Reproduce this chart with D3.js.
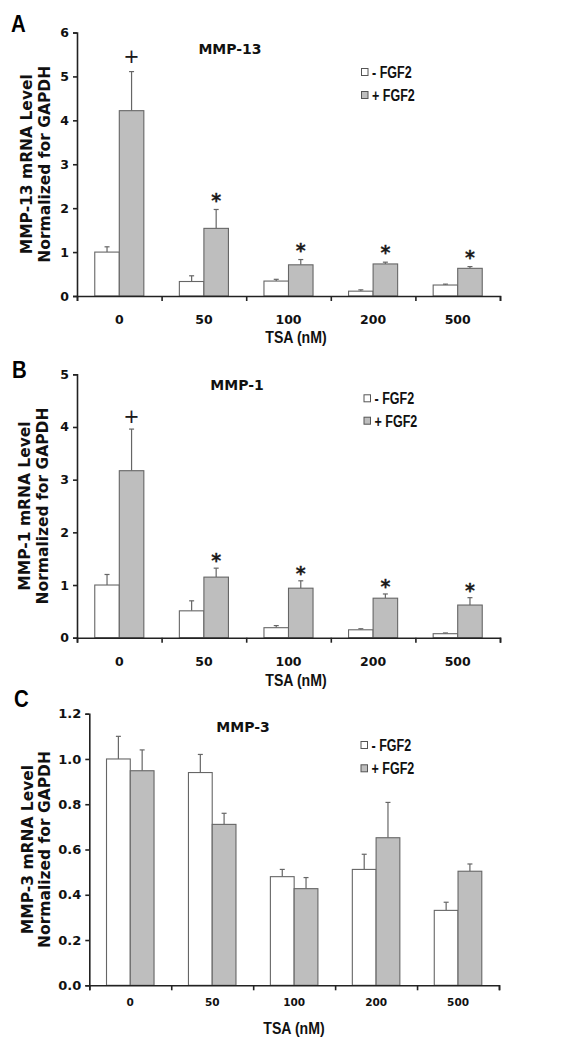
<!DOCTYPE html>
<html><head><meta charset="utf-8">
<script src="https://cdn.jsdelivr.net/npm/d3@7"></script>
<style>
html,body{margin:0;padding:0;background:#fff;}
svg{display:block;}
.tick text{font-family:"DejaVu Sans",Verdana,sans-serif;font-weight:bold;fill:#111;}
.narrow{font-family:"Liberation Sans",Arial,sans-serif;font-weight:bold;}
</style></head>
<body>
<svg id="chart" width="572" height="1049"></svg>
<script>
// ---------- data ----------
const categories = ["0", "50", "100", "200", "500"];
const seriesNames = ["- FGF2", "+ FGF2"];

const mmp13Minus    = [1.00, 0.33, 0.34, 0.11, 0.25];
const mmp13MinusErr = [0.12, 0.13, 0.04, 0.03, 0.02];
const mmp13Plus     = [4.22, 1.54, 0.71, 0.73, 0.63];
const mmp13PlusErr  = [0.89, 0.43, 0.12, 0.04, 0.04];
const mmp13Marks    = ["+", "*", "*", "*", "*"];
const mmp13Ticks    = [0, 1, 2, 3, 4, 5, 6];

const mmp1Minus     = [1.00, 0.51, 0.19, 0.15, 0.076];
const mmp1MinusErr  = [0.20, 0.19, 0.04, 0.02, 0.014];
const mmp1Plus      = [3.17, 1.15, 0.94, 0.75, 0.62];
const mmp1PlusErr   = [0.79, 0.17, 0.14, 0.08, 0.14];
const mmp1Marks     = ["+", "*", "*", "*", "*"];
const mmp1Ticks     = [0, 1, 2, 3, 4, 5];

const mmp3Minus     = [1.00, 0.94, 0.48, 0.512, 0.331];
const mmp3MinusErr  = [0.10, 0.08, 0.032, 0.067, 0.036];
const mmp3Plus      = [0.948, 0.711, 0.427, 0.652, 0.504];
const mmp3PlusErr   = [0.092, 0.049, 0.049, 0.156, 0.032];
const mmp3Marks     = ["", "", "", "", ""];
const mmp3Ticks     = [0, 0.2, 0.4, 0.6, 0.8, 1.0, 1.2];

// ---------- layout ----------
const panels = [
  {letter:"A", title:"MMP-13", ylab1:"MMP-13 mRNA Level", minus:mmp13Minus, minusErr:mmp13MinusErr, plus:mmp13Plus, plusErr:mmp13PlusErr, marks:mmp13Marks, ticks:mmp13Ticks, fmt:d3.format("d"),
   x0:77, x1:500, yTop:32.5, yBot:296, letterPos:[11,32], titlePos:[230,54], legend:[361.5,72,95], xLabY:343, xLabX:296, yLabX:[27,45], xTickFont:12.5, yTickFont:12.5, xTickDy:27, markOff:15.5},
  {letter:"B", title:"MMP-1", ylab1:"MMP-1 mRNA Level", minus:mmp1Minus, minusErr:mmp1MinusErr, plus:mmp1Plus, plusErr:mmp1PlusErr, marks:mmp1Marks, ticks:mmp1Ticks, fmt:d3.format("d"),
   x0:77, x1:500, yTop:374.3, yBot:637.7, letterPos:[12,378], titlePos:[237,390], legend:[364,398.3,420.7], xLabY:686, xLabX:296, yLabX:[25,43], xTickFont:12.5, yTickFont:12.5, xTickDy:27, markOff:13.5},
  {letter:"C", title:"MMP-3", ylab1:"MMP-3 mRNA Level", minus:mmp3Minus, minusErr:mmp3MinusErr, plus:mmp3Plus, plusErr:mmp3PlusErr, marks:mmp3Marks, ticks:mmp3Ticks, fmt:d3.format(".1f"),
   x0:89.3, x1:499, yTop:713.7, yBot:985.3, letterPos:[14,707], titlePos:[243,731.5], legend:[361,745,768.3], xLabY:1034, xLabX:294, yLabX:[28,45], xTickFont:10.5, yTickFont:13, xTickDy:21.5, markOff:14}
];

const svg = d3.select("#chart");
const barStroke = "#666";
const greyFill = "#bebebe";
const axisColor = "#222";

// condensed bold text (the figure uses a condensed face)
function narrowText(g, x, y, txt, size, sx, anchor) {
  return g.append("text").attr("class", "narrow")
    .attr("transform", `translate(${x},${y}) scale(${sx},1)`)
    .attr("text-anchor", anchor || "start")
    .attr("font-size", size).attr("fill", "#111").text(txt);
}

panels.forEach(p => {
  const g = svg.append("g");
  const x = d3.scaleBand().domain(categories).range([p.x0, p.x1]).paddingInner(0).paddingOuter(0);
  const sub = d3.scaleBand().domain(["minus","plus"]).range([0, x.bandwidth()]).paddingInner(0).paddingOuter(0.724);
  const y = d3.scaleLinear().domain([p.ticks[0], p.ticks[p.ticks.length-1]]).range([p.yBot, p.yTop]);
  const bound = d3.scaleLinear().domain([0, categories.length]).range([p.x0, p.x1]);

  const rows = [];
  categories.forEach((c, i) => {
    rows.push({cat:c, key:"minus", v:p.minus[i], e:p.minusErr[i], mark:""});
    rows.push({cat:c, key:"plus",  v:p.plus[i],  e:p.plusErr[i],  mark:p.marks[i]});
  });

  // error bars (upper only)
  const eb = g.append("g").attr("stroke", "#666").attr("stroke-width", 1.2);
  rows.forEach(r => {
    const cx = x(r.cat) + sub(r.key) + sub.bandwidth()/2;
    eb.append("line").attr("x1", cx).attr("x2", cx).attr("y1", y(r.v)).attr("y2", y(r.v + r.e));
    eb.append("line").attr("x1", cx-2.5).attr("x2", cx+2.5).attr("y1", y(r.v + r.e)).attr("y2", y(r.v + r.e));
  });

  // bars
  g.append("g").selectAll("rect").data(rows).join("rect")
    .attr("x", d => x(d.cat) + sub(d.key))
    .attr("y", d => y(d.v))
    .attr("width", sub.bandwidth())
    .attr("height", d => y(0) - y(d.v))
    .attr("fill", d => d.key === "plus" ? greyFill : "#fff")
    .attr("stroke", barStroke).attr("stroke-width", 1.1);

  // significance marks
  g.append("g").selectAll("text").data(rows.filter(r => r.mark)).join("text")
    .attr("x", d => x(d.cat) + sub(d.key) + sub.bandwidth()/2)
    .attr("y", d => y(d.v + d.e) - p.markOff)
    .attr("text-anchor", "middle").attr("dominant-baseline", "central")
    .attr("font-family", "DejaVu Sans, sans-serif")
    .attr("font-weight", d => d.mark === "*" ? "bold" : "normal")
    .attr("font-size", 19)
    .attr("dy", d => d.mark === "*" ? "0.3em" : "0")
    .attr("fill", "#1a1a1a")
    .attr("stroke", "#1a1a1a").attr("stroke-width", d => d.mark === "*" ? 0.3 : 0.15)
    .text(d => d.mark);

  // y axis
  const ya = g.append("g").attr("transform", `translate(${p.x0},0)`)
    .call(d3.axisLeft(y).tickValues(p.ticks).tickFormat(p.fmt).tickSize(4).tickPadding(4));
  ya.selectAll("text").attr("font-size", p.yTickFont);
  // x axis: boundary ticks
  const xa = g.append("g").attr("transform", `translate(0,${p.yBot})`)
    .call(d3.axisBottom(bound).tickValues(d3.range(categories.length+1)).tickFormat("").tickSize(5).tickSizeOuter(5));
  // x labels
  const xl = g.append("g").attr("transform", `translate(0,${p.yBot})`)
    .call(d3.axisBottom(x).tickSize(0).tickPadding(p.xTickDy - 8));
  xl.select(".domain").remove();
  xl.selectAll("text").attr("font-size", p.xTickFont);
  [ya, xa].forEach(a => { a.selectAll(".domain, line").attr("stroke", axisColor).attr("stroke-width", 1.6); });

  // title
  g.append("text").attr("x", p.titlePos[0]).attr("y", p.titlePos[1])
    .attr("text-anchor", "middle").attr("font-family", "DejaVu Sans, sans-serif").attr("font-weight", "bold")
    .attr("font-size", 14).attr("fill", "#111").text(p.title);

  // panel letter
  narrowText(g, p.letterPos[0], p.letterPos[1], p.letter, 24, 0.85).attr("fill", "#000");

  // y label
  const yc = (p.yTop + p.yBot) / 2;
  [p.ylab1, "Normalized for GAPDH"].forEach((t, i) => {
    g.append("text").attr("transform", `translate(${p.yLabX[i]},${yc}) rotate(-90)`)
      .attr("text-anchor", "middle").attr("dominant-baseline", "central")
      .attr("font-family", "DejaVu Sans, sans-serif").attr("font-weight", "bold")
      .attr("font-size", 15.5).attr("fill", "#111").text(t);
  });

  // x label
  narrowText(g, p.xLabX, p.xLabY, "TSA (nM)", 17, 0.83, "middle");

  // legend
  seriesNames.forEach((s, i) => {
    const ly = p.legend[1 + i];
    g.append("rect").attr("x", p.legend[0]).attr("y", ly - 3.5).attr("width", 6.5).attr("height", 7)
      .attr("fill", i === 1 ? greyFill : "#fff").attr("stroke", "#555").attr("stroke-width", 1);
    narrowText(g, p.legend[0] + 10.5, ly + 6, s, 16.5, 0.76);
  });
});
</script>
</body></html>
